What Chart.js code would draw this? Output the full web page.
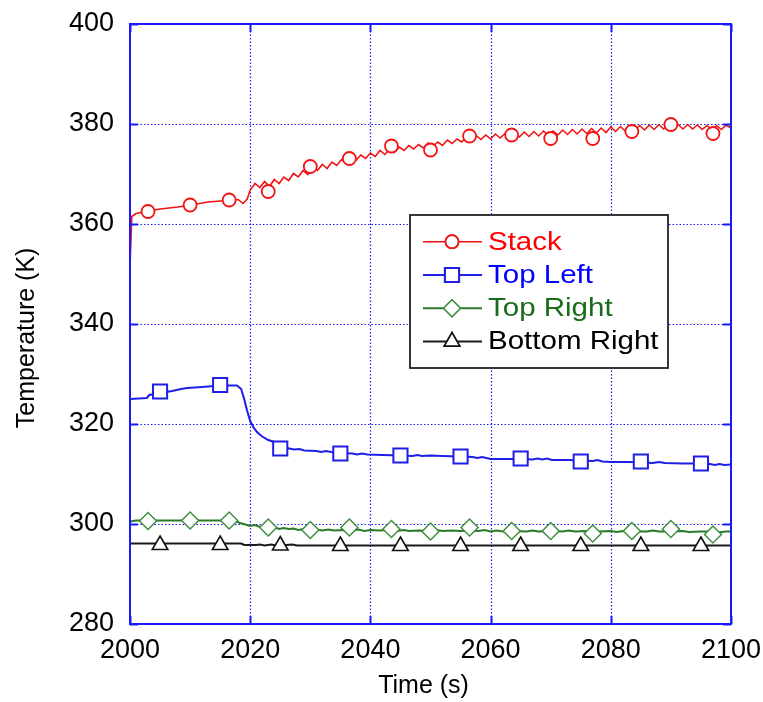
<!DOCTYPE html>
<html>
<head>
<meta charset="utf-8">
<script src="https://cdn.jsdelivr.net/npm/chart.js@4.4.1/dist/chart.umd.min.js"></script>
<style>
  html, body { margin: 0; padding: 0; background: #fff; }
  canvas { display: block; }
</style>
</head>
<body>
<canvas id="c" width="763" height="702"></canvas>
<script>
// ---------------- DATA ----------------
const xTicks = [2000, 2020, 2040, 2060, 2080, 2100];
const yTicks = [280, 300, 320, 340, 360, 380, 400];

const seriesNames = ['Stack', 'Top Left', 'Top Right', 'Bottom Right'];

// Stack (line)
const stackTime = [
  2000, 2000.3, 2001, 2003, 2005, 2008, 2010, 2013, 2016, 2018, 2018.8, 2019.5,
  2020.0,2020.8,2021.6,2022.4,2023.2,2024.0,2024.8,2025.6,2026.4,2027.2,
  2028.0,2028.8,2029.6,2030.4,2031.2,2032.0,2032.8,2033.6,2034.4,2035.2,
  2036.0,2036.8,2037.6,2038.4,2039.2,2040.0,2040.8,2041.6,2042.4,2043.2,
  2044.0,2044.8,2045.6,2046.4,2047.2,2048.0,2048.8,2049.6,2050.4,2051.2,
  2052.0,2052.8,2053.6,2054.4,2055.2,2056.0,2056.8,2057.6,2058.4,2059.2,
  2060.0,2060.8,2061.6,2062.4,2063.2,2064.0,2064.8,2065.6,2066.4,2067.2,
  2068.0,2068.8,2069.6,2070.4,2071.2,2072.0,2072.8,2073.6,2074.4,2075.2,
  2076.0,2076.8,2077.6,2078.4,2079.2,2080.0,2080.8,2081.6,2082.4,2083.2,
  2084.0,2084.8,2085.6,2086.4,2087.2,2088.0,2088.8,2089.6,2090.4,2091.2,
  2092.0,2092.8,2093.6,2094.4,2095.2,2096.0,2096.8,2097.6,2098.4,2099.2,
  2100.0
];
const stackTemp = [
  351.5, 361.5, 362.1, 362.6, 363.0, 363.4, 363.8, 364.4, 364.7, 364.9, 364.1, 365.0,
  366.8,368.1,367.3,368.5,367.5,368.9,368.1,369.4,368.7,370.1,
  369.4,370.7,369.9,371.4,370.7,371.9,371.1,372.4,371.7,372.9,
  372.2,373.4,372.7,373.8,373.1,374.2,373.5,374.7,373.9,375.0,
  374.3,375.4,374.7,375.7,375.0,375.9,375.2,376.2,375.5,376.4,
  375.7,376.8,376.1,377.0,376.4,377.4,376.7,377.7,376.9,377.8,
  377.0,378.0,377.2,378.1,377.3,378.3,377.4,378.4,377.5,378.5,
  377.6,378.6,377.7,378.6,377.8,378.8,377.9,378.9,378.0,379.0,
  378.1,379.1,378.2,379.2,378.3,379.4,378.5,379.5,378.6,379.6,
  378.7,379.7,378.8,379.8,378.9,379.9,379.0,380.0,379.1,379.9,
  379.0,379.9,379.0,379.8,378.9,379.7,378.8,379.7,378.9,379.8,
  379.2
];
const stackMarkTime = [2003, 2010, 2016.5, 2023, 2030, 2036.5, 2043.5, 2050, 2056.5, 2063.5, 2070, 2077, 2083.5, 2090, 2097];
const stackMarkTemp = [362.5, 363.8, 364.8, 366.5, 371.5, 373.1, 375.6, 374.8, 377.6, 377.8, 377.1, 377.1, 378.5, 379.9, 378.1];

// Top Left (line)
const topLeftTime = [
  2000.0,2001.5,2002.8,2003.2,2005.0,2007.0,2008.5,2009.5,2012.0,2014.0,2016.0,2017.8,
  2018.5,2019.0,2019.5,2020.0,2020.6,2021.2,2022.0,2023.0,2024.0,2025.0,2026.5,2027.3,
  2028.2,2029.0,2031.0,2031.8,2032.6,2033.5,2035.0,2037.0,2037.8,2038.6,2039.5,2042.0,
  2045.0,2047.0,2047.8,2048.6,2050.0,2052.0,2055.0,2057.0,2057.8,2058.6,2060.0,2062.5,
  2065.0,2067.0,2067.8,2068.6,2069.4,2070.2,2073.0,2075.0,2077.0,2077.8,2078.6,2080.0,
  2083.0,2085.0,2087.0,2088.0,2089.0,2092.0,2095.0,2096.5,2097.3,2098.1,2098.9,2100.0
];
const topLeftTemp = [
  325.0,325.1,325.2,325.8,326.2,326.6,327.0,327.2,327.4,327.6,327.7,327.7,
  327.0,325.0,322.6,320.6,319.2,318.3,317.5,316.8,316.4,315.4,315.1,314.9,
  315.0,314.7,314.6,314.4,314.6,314.4,314.2,314.1,313.9,314.1,313.9,313.8,
  313.7,313.6,313.8,313.6,313.7,313.6,313.5,313.4,313.2,313.4,313.0,313.0,
  313.0,312.9,313.1,312.9,313.1,312.8,312.8,312.7,312.6,312.8,312.5,312.4,
  312.4,312.3,312.2,312.4,312.2,312.1,312.1,312.0,311.8,312.0,311.8,311.9
];
const topLeftMarkTime = [2005, 2015, 2025, 2035, 2045, 2055, 2065, 2075, 2085, 2095];
const topLeftMarkTemp = [326.5, 327.8, 315.1, 314.1, 313.7, 313.5, 313.1, 312.5, 312.5, 312.1];

// Top Right (line)
const topRightTime = [
  2000.0,2001.0,2005.0,2010.0,2015.0,2017.5,2018.3,2019.2,2020.0,2020.8,2021.6,2022.4,
  2023.2,2024.0,2024.8,2025.6,2026.4,2027.2,2028.0,2029.0,2030.0,2031.0,2032.0,2033.0,
  2034.0,2035.5,2037.0,2038.0,2039.0,2040.0,2041.5,2043.0,2044.5,2045.5,2046.5,2048.0,
  2050.0,2051.0,2052.0,2053.5,2055.0,2056.5,2058.0,2059.0,2060.0,2061.0,2062.0,2064.0,
  2066.0,2067.0,2068.0,2070.0,2072.0,2073.0,2074.0,2076.0,2078.0,2080.0,2081.0,2082.0,
  2084.0,2086.0,2087.0,2088.0,2090.0,2092.0,2093.0,2095.0,2097.0,2098.0,2099.0,2100.0
];
const topRightTemp = [
  300.5,300.7,300.7,300.7,300.7,300.6,300.2,299.9,299.6,299.8,299.4,299.6,
  299.2,299.4,299.0,299.2,299.0,299.1,298.8,299.0,298.7,298.9,298.7,298.9,
  298.7,298.8,298.7,298.9,298.6,298.8,298.7,298.8,298.6,298.8,298.6,298.7,
  298.6,298.8,298.6,298.7,298.6,298.7,298.6,298.8,298.5,298.7,298.5,298.6,
  298.5,298.7,298.5,298.6,298.5,298.7,298.5,298.6,298.5,298.6,298.4,298.6,
  298.5,298.5,298.7,298.5,298.5,298.6,298.4,298.5,298.5,298.3,298.5,298.5
];
const topRightMarkTime = [2003, 2010, 2016.5, 2023, 2030, 2036.5, 2043.5, 2050, 2056.5, 2063.5, 2070, 2077, 2083.5, 2090, 2097];
const topRightMarkTemp = [300.6, 300.7, 300.7, 299.3, 298.8, 299.3, 299.0, 298.5, 299.3, 298.6, 298.6, 298.1, 298.6, 299.0, 297.9];

// Bottom Right (line)
const bottomRightTime = [2000, 2005, 2010, 2015, 2018.5, 2019.0, 2021.0, 2021.6, 2022.4, 2023.5, 2024.3, 2026.0, 2027.0, 2027.8, 2030, 2040, 2050, 2060, 2070, 2080, 2090, 2100];
const bottomRightTemp = [296.1, 296.1, 296.1, 296.1, 296.1, 295.8, 295.8, 295.9, 295.7, 295.9, 295.7, 295.8, 295.9, 295.7, 295.7, 295.7, 295.7, 295.7, 295.7, 295.7, 295.7, 295.7];
const bottomRightMarkTime = [2005, 2015, 2025, 2035, 2045, 2055, 2065, 2075, 2085, 2095];
const bottomRightMarkTemp = [295.8, 295.8, 295.7, 295.6, 295.6, 295.6, 295.6, 295.6, 295.6, 295.6];

// ---------------- STYLE ----------------
const FONT = '"Liberation Sans", Arial, sans-serif';
const AXIS_BLUE = '#1a1aff';
const COLORS = {
  stack:  { line: '#f01414', marker: '#f01414', text: '#ff0000' },
  tl:     { line: '#1e1ee6', marker: '#1e1ee6', text: '#0000ff' },
  tr:     { line: '#2a7a2a', marker: '#3f8f3f', text: '#1a6b1a' },
  br:     { line: '#1a1a1a', marker: '#111111', text: '#000000' }
};

function pts(xs, ys) { return xs.map((x, i) => ({ x: x, y: ys[i] })); }

function lineDs(label, xs, ys, color, width) {
  return { label, data: pts(xs, ys), borderColor: color, borderWidth: width, pointRadius: 0,
    fill: false, tension: 0, order: 2 };
}
function markDs(label, xs, ys, color, style, radius, bw) {
  return { label, data: pts(xs, ys), showLine: false, borderColor: color, backgroundColor: '#ffffff',
    pointStyle: style, pointRadius: radius, pointBorderWidth: bw, pointBorderColor: color,
    pointBackgroundColor: '#ffffff', order: 1 };
}

const MARKERS = [
  { name: seriesNames[0], c: COLORS.stack, style: 'circle', r: 6.5, bw: 1.8 },
  { name: seriesNames[1], c: COLORS.tl, style: 'rect', r: 10, bw: 2 },
  { name: seriesNames[2], c: COLORS.tr, style: 'rectRot', r: 8.5, bw: 1.5 },
  { name: seriesNames[3], c: COLORS.br, style: 'triangle', r: 9, bw: 1.6 }
];

const datasets = [
  lineDs('Bottom Right', bottomRightTime, bottomRightTemp, COLORS.br.line, 2),
  lineDs('Top Right', topRightTime, topRightTemp, COLORS.tr.line, 2),
  lineDs('Top Left', topLeftTime, topLeftTemp, COLORS.tl.line, 2),
  lineDs('Stack', stackTime, stackTemp, COLORS.stack.line, 1.6),
  markDs('Bottom Right m', bottomRightMarkTime, bottomRightMarkTemp, COLORS.br.marker, 'triangle', 9, 1.6),
  markDs('Top Right m', topRightMarkTime, topRightMarkTemp, COLORS.tr.marker, 'rectRot', 8.5, 1.5),
  markDs('Top Left m', topLeftMarkTime, topLeftMarkTemp, COLORS.tl.marker, 'rect', 10, 2),
  markDs('Stack m', stackMarkTime, stackMarkTemp, COLORS.stack.marker, 'circle', 6.5, 1.8)
];

function drawMarker(ctx, style, x, y, r, color, bw) {
  ctx.save();
  ctx.fillStyle = '#fff';
  ctx.strokeStyle = color;
  ctx.lineWidth = bw;
  Chart.helpers.drawPoint(ctx, { pointStyle: style, radius: r, rotation: 0, borderWidth: bw }, x, y);
  ctx.fill();
  ctx.stroke();
  ctx.restore();
}

const decor = {
  id: 'decor',
  beforeDatasetsDraw(chart) {
    const { ctx, chartArea: a, scales: { x, y } } = chart;
    ctx.save();
    ctx.strokeStyle = AXIS_BLUE;
    ctx.lineWidth = 1.2;
    ctx.setLineDash([1.5, 2]);
    x.ticks.forEach(t => {
      if (t.value <= x.min || t.value >= x.max) return;
      const px = Math.round(x.getPixelForValue(t.value)) + 0.5;
      ctx.beginPath(); ctx.moveTo(px, a.top); ctx.lineTo(px, a.bottom); ctx.stroke();
    });
    y.ticks.forEach(t => {
      if (t.value <= y.min || t.value >= y.max) return;
      const py = Math.round(y.getPixelForValue(t.value)) + 0.5;
      ctx.beginPath(); ctx.moveTo(a.left, py); ctx.lineTo(a.right, py); ctx.stroke();
    });
    ctx.restore();
  },
  afterDatasetsDraw(chart) {
    const { ctx, chartArea: a, scales: { x, y } } = chart;
    ctx.save();
    // inner tick marks
    ctx.strokeStyle = AXIS_BLUE;
    ctx.lineWidth = 2;
    const TL = 8;
    x.ticks.forEach(t => {
      const px = Math.round(x.getPixelForValue(t.value)) + 0.5;
      ctx.beginPath(); ctx.moveTo(px, a.bottom); ctx.lineTo(px, a.bottom - TL); ctx.stroke();
      ctx.beginPath(); ctx.moveTo(px, a.top); ctx.lineTo(px, a.top + TL); ctx.stroke();
    });
    y.ticks.forEach(t => {
      const py = Math.round(y.getPixelForValue(t.value)) + 0.5;
      ctx.beginPath(); ctx.moveTo(a.left, py); ctx.lineTo(a.left + TL, py); ctx.stroke();
      ctx.beginPath(); ctx.moveTo(a.right, py); ctx.lineTo(a.right - TL, py); ctx.stroke();
    });
    // frame
    ctx.lineWidth = 2;
    ctx.strokeRect(a.left, a.top, a.right - a.left, a.bottom - a.top);

    // legend
    const bx = a.left + 280, by = a.top + 191, bw = 258, bh = 153;
    ctx.fillStyle = '#ffffff';
    ctx.fillRect(bx, by, bw, bh);
    ctx.strokeStyle = '#222';
    ctx.lineWidth = 1.8;
    ctx.strokeRect(bx, by, bw, bh);
    MARKERS.forEach((m, i) => {
      const ry = by + 26.7 + i * 33.3;
      ctx.strokeStyle = m.c.line;
      ctx.lineWidth = i === 0 ? 1.6 : 2;
      ctx.beginPath(); ctx.moveTo(bx + 13, ry); ctx.lineTo(bx + 72, ry); ctx.stroke();
      drawMarker(ctx, m.style, bx + 42, ry, m.r, m.c.marker, m.bw);
      ctx.save();
      ctx.translate(bx + 78, ry);
      ctx.scale(1.18, 1);
      ctx.font = '25px ' + FONT;
      ctx.fillStyle = m.c.text;
      ctx.textBaseline = 'middle';
      ctx.textAlign = 'left';
      ctx.fillText(m.name, 0, 1);
      ctx.restore();
    });
    ctx.restore();
  }
};

new Chart(document.getElementById('c').getContext('2d'), {
  type: 'line',
  data: { datasets },
  plugins: [decor],
  options: {
    responsive: false,
    animation: false,
    devicePixelRatio: 1,
    parsing: true,
    layout: { padding: { top: 24, right: 32, left: 0, bottom: 0 } },
    plugins: { legend: { display: false }, tooltip: { enabled: false } },
    elements: { line: { borderCapStyle: 'butt', borderJoinStyle: 'miter' } },
    scales: {
      x: {
        type: 'linear', min: 2000, max: 2100,
        afterBuildTicks: s => { s.ticks = xTicks.map(v => ({ value: v })); },
        afterFit: s => { s.height = 78; s.paddingLeft = 0; s.paddingRight = 0; },
        grid: { display: false, drawTicks: false },
        border: { display: false },
        ticks: { padding: 10, color: '#000', font: { family: FONT, size: 27 }, maxRotation: 0, autoSkip: false, callback: v => String(v) },
        title: { display: true, text: 'Time (s)  ', color: '#000', font: { family: FONT, size: 25 }, padding: { top: 0, bottom: 1 } }
      },
      y: {
        type: 'linear', min: 280, max: 400,
        afterBuildTicks: s => { s.ticks = yTicks.map(v => ({ value: v })); },
        afterFit: s => { s.width = 130; s.paddingTop = 0; s.paddingBottom = 0; },
        grid: { display: false, drawTicks: false },
        border: { display: false },
        ticks: { padding: 16, color: '#000', font: { family: FONT, size: 27 }, autoSkip: false, callback: v => String(v) },
        title: { display: true, text: 'Temperature (K)    ', color: '#000', font: { family: FONT, size: 25 }, padding: { top: 12, bottom: 0 } }
      }
    }
  }
});
</script>
</body>
</html>
